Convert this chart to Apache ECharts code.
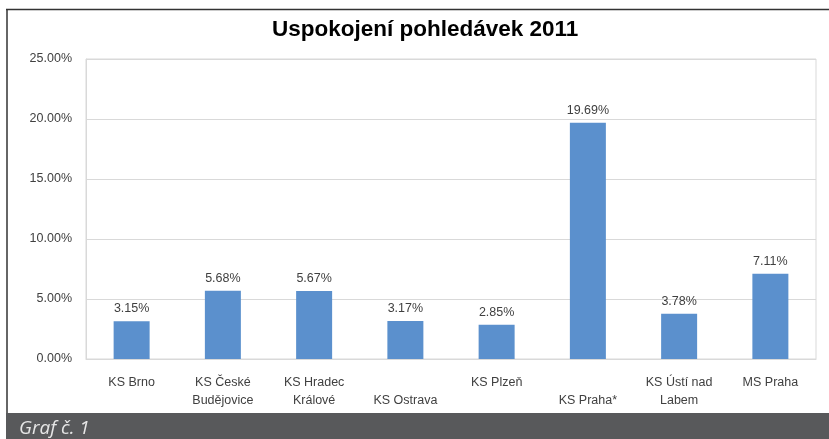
<!DOCTYPE html>
<html>
<head>
<meta charset="utf-8">
<script src="https://cdn.jsdelivr.net/npm/echarts@6/dist/echarts.min.js"></script>
<style>
  html, body { margin: 0; padding: 0; background: #fff; }
  #chart { width: 829px; height: 439px; }
</style>
</head>
<body>
<div id="chart"></div>
<script>
// data
const categories = ['KS Brno', 'KS České\nBudějovice', 'KS Hradec\nKrálové', ' \nKS Ostrava', 'KS Plzeň', ' \nKS Praha*', 'KS Ústí nad\nLabem', 'MS Praha'];
const values = [3.15, 5.68, 5.67, 3.17, 2.85, 19.69, 3.78, 7.11];
const titleText = 'Uspokojení pohledávek 2011';
const captionText = 'Graf č. 1';

const font = 'Liberation Sans, Arial, sans-serif';

let myChart = echarts.init(document.getElementById('chart'));
let option = {
  animation: false,
  textStyle: { fontFamily: font },
  title: {
    text: titleText,
    left: 267,
    top: 13,
    textStyle: { fontSize: 22.5, fontWeight: 'bold', color: '#000', fontFamily: font }
  },
  grid: {
    left: 86,
    right: 13,
    top: 59,
    bottom: 80,
    show: true,
    borderColor: '#d9d9d9',
    borderWidth: 1
  },
  xAxis: {
    type: 'category',
    data: categories,
    axisLine: { lineStyle: { color: '#d9d9d9' } },
    axisTick: { show: false },
    axisLabel: {
      interval: 0,
      margin: 15,
      fontSize: 12.5,
      lineHeight: 18,
      color: '#404040',
      fontFamily: font
    }
  },
  yAxis: {
    type: 'value',
    min: 0,
    max: 25,
    interval: 5,
    axisLine: { show: true, lineStyle: { color: '#d9d9d9' } },
    axisTick: { show: false },
    splitLine: { lineStyle: { color: '#d9d9d9' } },
    axisLabel: {
      margin: 14,
      fontSize: 12.5,
      color: '#404040',
      fontFamily: font,
      formatter: v => v.toFixed(2) + '%'
    }
  },
  series: [
    {
      type: 'bar',
      data: values,
      barWidth: 36,
      itemStyle: { color: '#5b90cd' },
      label: {
        show: true,
        position: 'top',
        distance: 6,
        fontSize: 12.5,
        color: '#404040',
        fontFamily: font,
        formatter: p => p.value.toFixed(2) + '%'
      }
    }
  ],
  graphic: [
    { type: 'line', shape: { x1: 6, y1: 9.5, x2: 829, y2: 9.5 }, style: { stroke: '#333', lineWidth: 1.5 } },
    { type: 'line', shape: { x1: 7, y1: 9, x2: 7, y2: 414 }, style: { stroke: '#333', lineWidth: 1.5 } },
    { type: 'rect', shape: { x: 6, y: 413, width: 823, height: 26 }, style: { fill: '#58595b' } },
    {
      type: 'text', left: 19, top: 419,
      style: { text: captionText, fill: '#e6e6e6', font: 'italic 400 19px "Open Sans", sans-serif' }
    }
  ]
};
myChart.setOption(option);
</script>
</body>
</html>
